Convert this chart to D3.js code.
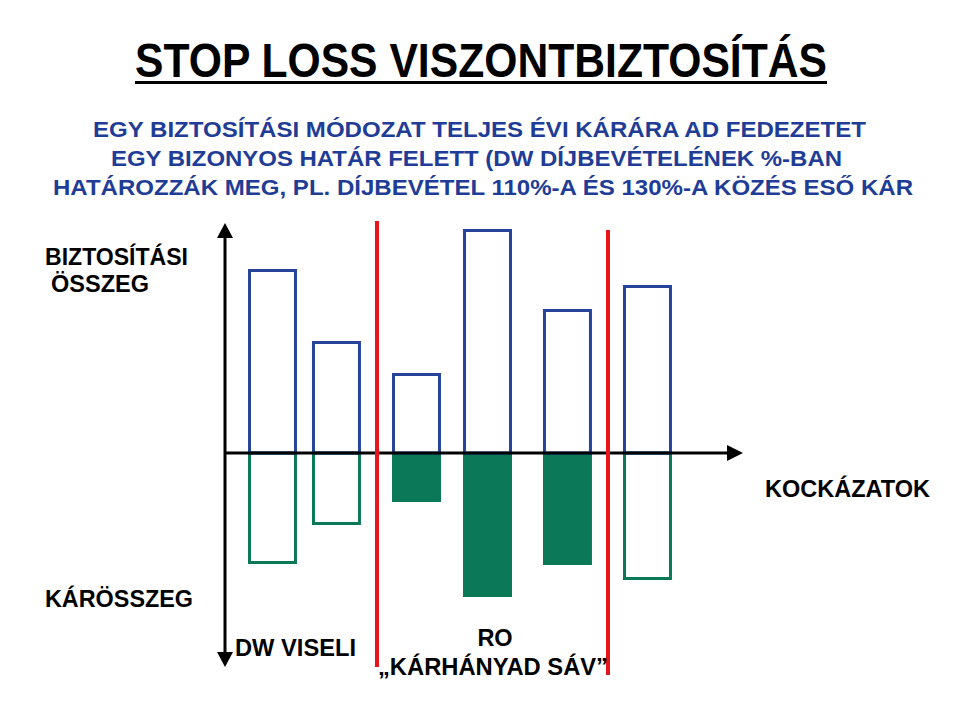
<!DOCTYPE html>
<html>
<head>
<meta charset="utf-8">
<script src="https://cdn.jsdelivr.net/npm/d3@7"></script>
<style>
  html, body { margin: 0; padding: 0; background: #fff; }
  svg { display: block; }
</style>
</head>
<body>
<svg id="chart" width="959" height="717"></svg>
<script>
// ---------- data ----------
const categories = ["K1", "K2", "K3", "K4", "K5", "K6"];
const riskPos = [0, 0.853, 1.92, 2.867, 3.933, 5];    // position of each risk along the axis
const separators = [1.72, 4.8];                        // DW / RO / DW boundaries
const sumInsured = [184, 112, 80, 224, 144, 168];   // biztosítási összeg (above axis)
const claims = [111, 72, 49, 144, 112, 127];        // kárösszeg (below axis)
const inRoBand = [false, false, true, true, true, false];
const titleText = "STOP LOSS VISZONTBIZTOSÍTÁS";
const subtitleLines = [
  "EGY BIZTOSÍTÁSI MÓDOZAT TELJES ÉVI KÁRÁRA AD FEDEZETET",
  "EGY BIZONYOS HATÁR FELETT (DW DÍJBEVÉTELÉNEK %-BAN",
  "HATÁROZZÁK MEG, PL. DÍJBEVÉTEL 110%-A ÉS 130%-A KÖZÉS ESŐ KÁR"
];
const yAxisTopLabel = ["BIZTOSÍTÁSI", "ÖSSZEG"];
const yAxisBottomLabel = "KÁRÖSSZEG";
const xAxisLabel = "KOCKÁZATOK";
const dwLabel = "DW VISELI";
const roLabel = ["RO", "„KÁRHÁNYAD SÁV”"];

// ---------- setup ----------
const svg = d3.select("#chart");
const FONT = "'Liberation Sans', Arial, Helvetica, sans-serif";
const BLUE_TXT = "#1f3d96";
const BLUE = "#25449a";
const GREEN = "#0b7857";
const RED = "#e8141c";

const x = d3.scaleLinear().domain([0, 5]).range([248, 623]);
const barW = x(0.653) - x(0);
const y = d3.scaleLinear().domain([-214, 230]).range([667, 223]);
const axisX0 = 225, axisX1 = 743;

// ---------- title ----------
svg.append("text")
  .attr("x", 135).attr("y", 77)
  .attr("textLength", 692).attr("lengthAdjust", "spacingAndGlyphs")
  .style("font-family", FONT).style("font-weight", "bold").style("font-size", "49px")
  .attr("fill", "#000").text(titleText);
svg.append("rect").attr("x", 135).attr("y", 81).attr("width", 692).attr("height", 3).attr("fill", "#000");

// ---------- subtitle ----------
const subPos = [[93, 137, 773], [111, 166, 731], [53, 195, 860]];
subtitleLines.forEach((t, i) => {
  svg.append("text")
    .attr("x", subPos[i][0]).attr("y", subPos[i][1])
    .attr("textLength", subPos[i][2]).attr("lengthAdjust", "spacingAndGlyphs")
    .style("font-family", FONT).style("font-weight", "bold").style("font-size", "22px")
    .attr("fill", BLUE_TXT).text(t);
});

// ---------- bars ----------
const g = svg.append("g");
// loss bars (below axis)
g.selectAll("rect.loss").data(categories).enter().append("rect")
  .attr("class", "loss")
  .attr("x", (d, i) => x(riskPos[i]) + (inRoBand[i] ? 0 : 1.5))
  .attr("y", y(0))
  .attr("width", (d, i) => barW - (inRoBand[i] ? 0 : 3))
  .attr("height", (d, i) => y(-claims[i]) - y(0) - (inRoBand[i] ? 0 : 1.5))
  .attr("fill", (d, i) => inRoBand[i] ? GREEN : "none")
  .attr("stroke", (d, i) => inRoBand[i] ? "none" : GREEN)
  .attr("stroke-width", 3);

// sum insured bars (above axis)
g.selectAll("rect.sum").data(categories).enter().append("rect")
  .attr("class", "sum")
  .attr("x", (d, i) => x(riskPos[i]) + 1.5)
  .attr("y", (d, i) => y(sumInsured[i]) + 1.5)
  .attr("width", barW - 3)
  .attr("height", (d, i) => y(0) - y(sumInsured[i]) - 1.5)
  .attr("fill", "none").attr("stroke", BLUE).attr("stroke-width", 3);

// ---------- axes ----------
svg.append("line").attr("x1", axisX0).attr("x2", axisX1 - 12).attr("y1", y(0)).attr("y2", y(0))
  .attr("stroke", "#000").attr("stroke-width", 3);
svg.append("path").attr("d", `M${axisX1},${y(0)} L${axisX1 - 16},${y(0) - 8} L${axisX1 - 16},${y(0) + 8} Z`).attr("fill", "#000");
svg.append("line").attr("x1", axisX0).attr("x2", axisX0).attr("y1", y(230) + 12).attr("y2", y(-214) - 12)
  .attr("stroke", "#000").attr("stroke-width", 3);
svg.append("path").attr("d", `M${axisX0},${y(230)} L${axisX0 - 8},${y(230) + 15} L${axisX0 + 8},${y(230) + 15} Z`).attr("fill", "#000");
svg.append("path").attr("d", `M${axisX0},${y(-214)} L${axisX0 - 8},${y(-214) - 15} L${axisX0 + 8},${y(-214) - 15} Z`).attr("fill", "#000");

// ---------- red separator lines ----------
const sepTop = [221, 230], sepBottom = [667, 675];
separators.forEach((s, i) => {
  svg.append("line").attr("x1", x(s)).attr("x2", x(s)).attr("y1", sepTop[i]).attr("y2", sepBottom[i])
    .attr("stroke", RED).attr("stroke-width", 4);
});

// ---------- labels ----------
function label(t, xx, yy, anchor, len) {
  const el = svg.append("text").attr("x", xx).attr("y", yy)
    .attr("text-anchor", anchor || "start")
    .style("font-family", FONT).style("font-weight", "bold").style("font-size", "23.5px")
    .attr("fill", "#000").text(t);
  if (len) el.attr("textLength", len).attr("lengthAdjust", "spacingAndGlyphs");
  return el;
}
label(yAxisTopLabel[0], 45, 265, "start", 143);
label(yAxisTopLabel[1], 51, 292, "start");
label(yAxisBottomLabel, 45, 607, "start", 148);
label(xAxisLabel, 765, 497, "start", 165);
label(dwLabel, 235, 656, "start", 121);
label(roLabel[0], 495, 646, "middle");
label(roLabel[1], 378, 675, "start", 230);
</script>
</body>
</html>
